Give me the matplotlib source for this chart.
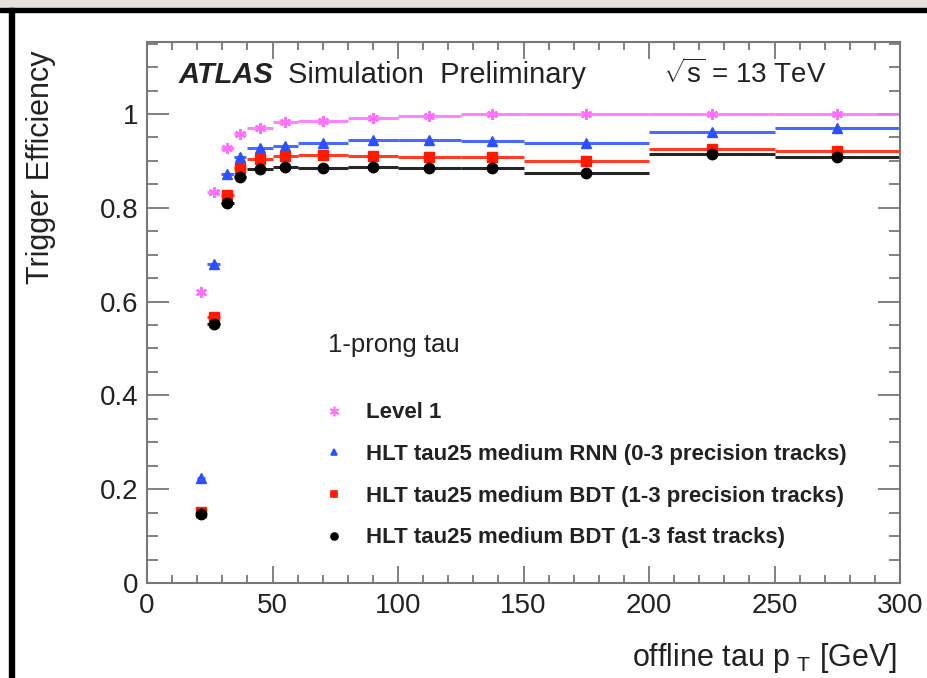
import matplotlib
matplotlib.use('Agg')
import matplotlib.pyplot as plt
from matplotlib.lines import Line2D
from matplotlib.patches import Rectangle
from matplotlib.ticker import MultipleLocator

fnt = 'Liberation Sans'
plt.rcParams['font.family'] = [fnt, 'DejaVu Sans']
plt.rcParams['mathtext.fontset'] = 'custom'
plt.rcParams['mathtext.rm'] = fnt
plt.rcParams['mathtext.default'] = 'regular'

# offline tau pT bins [GeV]
pt = [21.5, 26.5, 32, 37, 45, 55, 70, 90, 112.5, 137.5, 175, 225, 275]
pt_err = [1.5, 2.5, 2.5, 2.5, 5, 5, 10, 10, 12.5, 12.5, 25, 25, 25]

eff_l1 = [0.620, 0.834, 0.927, 0.957, 0.970, 0.983, 0.985, 0.991, 0.996, 1.0, 1.0, 1.0, 1.0]
eff_rnn = [0.224, 0.680, 0.872, 0.908, 0.927, 0.932, 0.938, 0.945, 0.944, 0.943, 0.939, 0.961, 0.971]
eff_bdt = [0.151, 0.568, 0.827, 0.885, 0.904, 0.910, 0.912, 0.910, 0.908, 0.908, 0.900, 0.925, 0.921]
eff_fast = [0.147, 0.553, 0.810, 0.866, 0.883, 0.887, 0.885, 0.886, 0.884, 0.884, 0.875, 0.915, 0.909]

labels = ['Level 1',
          'HLT tau25 medium RNN (0-3 precision tracks)',
          'HLT tau25 medium BDT (1-3 precision tracks)',
          'HLT tau25 medium BDT (1-3 fast tracks)']

fig = plt.figure(figsize=(9.27, 6.78), dpi=100)
ax = fig.add_axes([147/927, 1-583/678, (900-147)/927, (583-42)/678])

# screenshot frame bits
fig.add_artist(Rectangle((0, 1-8/678), 1, 8/678, transform=fig.transFigure, color='#e4e1dd', zorder=0))
fig.add_artist(Rectangle((0, 1-12/678), 1, 4/678, transform=fig.transFigure, color='black', zorder=0))
fig.add_artist(Rectangle((9/927, 0), 5/927, 1-8/678, transform=fig.transFigure, color='black', zorder=0))

star = (6, 2, 0)
styles = [
    (eff_l1, '#ff70ff', star, 8),
    (eff_rnn, '#2a50ff', '^', 7),
    (eff_bdt, '#ff1a00', 's', 7.5),
    (eff_fast, 'black', 'o', 7.5),
]
handles = []
for (eff, col, mk, ms), lab in zip(styles, labels):
    ax.errorbar(pt, eff, xerr=pt_err, fmt='none', ecolor=col, elinewidth=2.2, capsize=0, alpha=0.85)
    ax.plot(pt, eff, ls='none', marker=mk, color=col, ms=ms, mew=1.5 if mk == star else 1)
    handles.append(Line2D([], [], ls='none', marker=mk, color=col, ms=7 if mk == star else 5, mew=1.2))

ax.set_xlim(0, 300)
ax.set_ylim(0, 1.1535)
ax.xaxis.set_major_locator(MultipleLocator(50))
ax.xaxis.set_minor_locator(MultipleLocator(10))
ax.yaxis.set_minor_locator(MultipleLocator(0.05))
ax.set_yticks([0, 0.2, 0.4, 0.6, 0.8, 1.0])
ax.set_yticklabels(['0', '0.2', '0.4', '0.6', '0.8', '1'])
ax.tick_params(which='both', direction='in', top=True, right=True, color='#777777', width=1.3,
               labelsize=20, labelcolor='#222222')
ax.tick_params(axis='x', which='major', length=12, pad=7)
ax.tick_params(axis='x', which='minor', length=6)
ax.tick_params(axis='y', which='major', length=16, pad=6)
ax.tick_params(axis='y', which='minor', length=8)
for s in ax.spines.values():
    s.set_color('#777777')
    s.set_linewidth(1.5)

ax.set_ylabel('Trigger Efficiency', fontsize=22, color='#222222', loc='top')
ax.yaxis.set_label_coords(-0.121, 0.985)
ax.set_xlabel(r'offline tau p$_{\ T}$ [GeV]', fontsize=22, color='#222222', loc='right')
ax.xaxis.set_label_coords(0.996, -0.108)

ax.text(12.5, 1.066, 'ATLAS', fontsize=21, fontweight='bold', fontstyle='italic', color='#222222')
ax.text(56, 1.066, 'Simulation  Preliminary', fontsize=21, color='#222222')
ax.text(205.5, 1.066, r'$\sqrt{s}$ = 13 TeV', fontsize=20, color='#222222')
ax.text(72, 0.507, '1-prong tau', fontsize=18.5, color='#222222', va='center')

ax.legend(handles, labels, loc='upper left', bbox_to_anchor=(0.207, 0.371), frameon=False,
          prop={'weight': 'bold', 'size': 16}, handlelength=1.0, handletextpad=0.95,
          labelspacing=0.93, borderpad=0.4, labelcolor='#222222')

fig.savefig('out.png', dpi=100)
